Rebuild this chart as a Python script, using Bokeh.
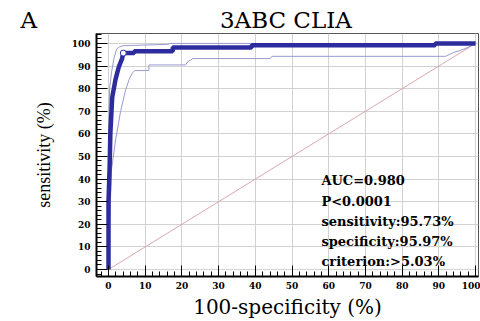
from bokeh.plotting import figure
from bokeh.models import SingleIntervalTicker
from bokeh.core.properties import value
from bokeh.embed import file_html
from bokeh.resources import INLINE

# ---- data ----
roc_fpr = [0, 0, 0.3, 0.5, 1.0, 1.9, 2.8, 3.7, 4.03, 7.0, 7.0, 17.5, 17.5, 39.0, 39.0, 89.0, 89.0, 100]
roc_sens = [0, 30, 45, 60, 76, 84, 89.6, 93.3, 95.73, 95.73, 96.6, 96.6, 98.2, 98.2, 99.2, 99.2, 100, 100]

upper_fpr = [0, 0, 0.3, 0.8, 1.5, 2.2, 3.0, 4.0, 10.0, 16.0, 17.0, 100]
upper_sens = [0, 60, 80, 87, 93.5, 97.5, 98.5, 99.0, 99.3, 99.6, 100, 100]

lower_fpr = [0, 0.3, 0.8, 2.0, 3.3, 4.6, 5.6, 6.5, 7.2, 11.0, 11.0, 21.0, 21.5, 23.0, 44.0, 44.5, 91.8, 94.0, 96.0, 98.0, 100]
lower_sens = [0, 20, 44, 58, 70, 79, 84, 87, 88, 88, 90.5, 90.5, 91.8, 93.3, 93.3, 94.3, 94.3, 96.0, 97.0, 98.3, 100]

diag_x = [0, 100]
diag_y = [0, 100]

crit_fpr = [4.03]
crit_sens = [95.73]

stats_lines = ["AUC=0.980", "P<0.0001", "sensitivity:95.73%", "specificity:95.97%", "criterion:>5.03%"]

title_text = "3ABC CLIA"
panel_letter = "A"
x_label = "100-specificity (%)"
y_label = "sensitivity (%)"

# ---- figure ----
p = figure(width=480, height=321, x_range=(-3.27, 100.8), y_range=(-3.1, 104.4),
           output_backend="svg", toolbar_location=None,
           min_border_left=96, min_border_right=2, min_border_top=33, min_border_bottom=44)
p.background_fill_color = "white"
p.border_fill_color = "white"
p.outline_line_color = "#555555"
p.outline_line_width = 1

# panel letter and title share one title line (non-breaking spaces keep the gap)
p.title.text = panel_letter + "\u00a0" * 25 + title_text
p.title.align = "left"
p.title.offset = -76
p.title.standoff = 2
p.title.text_font = "DejaVu Serif"
p.title.text_font_size = "23px"
p.title.text_font_style = "normal"
p.title.text_color = "black"

for ax in (p.xaxis[0], p.yaxis[0]):
    ax.ticker = SingleIntervalTicker(interval=10, num_minor_ticks=5)
    ax.axis_line_color = "black"
    ax.axis_line_width = 2
    ax.major_tick_in = 11
    ax.major_tick_out = 0
    ax.minor_tick_in = 5
    ax.minor_tick_out = 0
    ax.major_tick_line_color = "black"
    ax.minor_tick_line_color = "black"
    ax.major_label_text_font = "DejaVu Serif"
    ax.major_label_text_font_style = "bold"
    ax.major_label_text_font_size = "9px"
    ax.major_label_text_color = "black"
    ax.axis_label_text_font_style = "normal"
    ax.axis_label_text_color = "black"

p.xaxis.major_label_standoff = 5
p.xaxis.axis_label = x_label
p.xaxis.axis_label_text_font = "DejaVu Serif"
p.xaxis.axis_label_text_font_size = "20px"
p.xaxis.axis_label_standoff = 3

p.yaxis.major_label_standoff = 6
p.yaxis.axis_label = y_label
p.yaxis.axis_label_text_font = "Liberation Serif"
p.yaxis.axis_label_text_font_size = "18px"
p.yaxis.axis_label_standoff = 15

p.grid.grid_line_color = "#d2d2d2"
p.grid.grid_line_width = 1

# ---- glyphs ----
p.line(diag_x, diag_y, line_color="#d9a9b0", line_width=1)
p.line(upper_fpr, upper_sens, line_color="#9a9ad0", line_width=1)
p.line(lower_fpr, lower_sens, line_color="#9a9ad0", line_width=1)
p.line(roc_fpr, roc_sens, line_color="#2c2c9e", line_width=4.5)
p.scatter(crit_fpr, crit_sens, size=6, fill_color="white", line_color="#2c2c9e", line_width=1)

y0, dy = 39.2, 8.9
p.text(x=[58.0] * len(stats_lines), y=[y0 - i * dy for i in range(len(stats_lines))],
       text=stats_lines, text_font=value("DejaVu Serif"), text_font_style="bold",
       text_font_size="13px", text_color="black", text_baseline="alphabetic", text_align="left")

open("out.html", "w").write(file_html(p, INLINE))
